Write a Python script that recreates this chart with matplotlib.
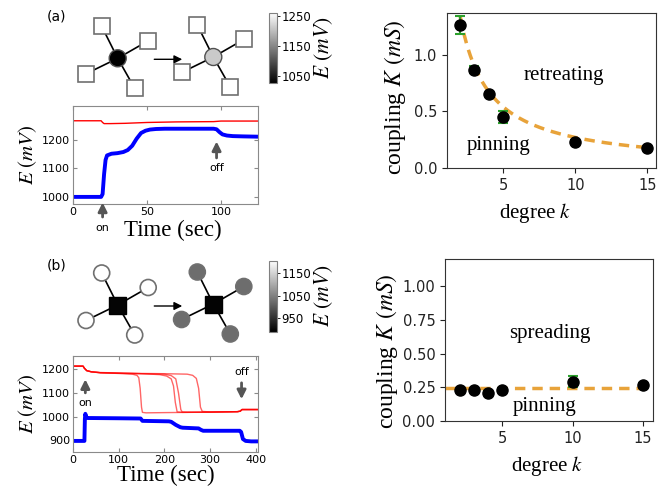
import numpy as np
import matplotlib.pyplot as plt
from matplotlib.patches import Circle, Rectangle
from matplotlib.colors import Normalize
from matplotlib import cm, rcParams

rcParams['mathtext.fontset'] = 'stix'
SERIF = 'Liberation Serif'
W, H = 667, 490

# ---------------- data ----------------
# (a) hub node switched on: blue = hub, red = leaves
t_a_blue = [0, 19, 20, 21, 22, 23, 26, 30, 34, 37, 40, 43, 46, 49, 52, 56, 62, 70, 80,
            90, 95, 97, 99, 101, 104, 108, 115, 125]
E_a_blue = [1000, 1000, 1010, 1080, 1130, 1146, 1152, 1154, 1158, 1165, 1180, 1205, 1225,
            1233, 1237, 1239, 1240, 1240, 1240, 1240, 1240, 1238, 1228, 1220, 1216, 1214,
            1213, 1212]
t_a_red = [0, 19, 20, 21, 25, 35, 50, 70, 95, 100, 125]
E_a_red = [1268, 1268, 1262, 1258, 1258, 1259, 1262, 1264, 1265, 1267, 1267]

# (b) hub node switched on: blue = hub, red = 4 leaves
t_b_blue = [0, 25, 26, 27, 29, 32, 40, 100, 148, 152, 210, 215, 225, 235, 240, 275, 280,
            285, 365, 368, 372, 378, 390, 408]
E_b_blue = [897, 897, 990, 1012, 998, 994, 994, 993, 992, 982, 980, 978, 965, 955, 953,
            950, 944, 940, 940, 935, 905, 897, 895, 895]
t_b_red = [
    [0, 22, 25, 30, 40, 60, 100, 130, 140, 144, 147, 150, 152, 160, 200, 250, 300, 360,
     366, 370, 380, 408],
    [0, 22, 25, 30, 40, 60, 100, 150, 190, 205, 215, 220, 224, 228, 240, 300, 360, 366,
     370, 380, 408],
    [0, 22, 25, 30, 40, 60, 100, 150, 200, 215, 225, 231, 236, 239, 250, 300, 360, 366,
     370, 380, 408],
    [0, 22, 25, 30, 40, 60, 100, 150, 200, 250, 262, 270, 275, 279, 283, 300, 360, 366,
     370, 380, 408],
]
E_b_red = [
    [1214, 1214, 1205, 1195, 1190, 1186, 1183, 1180, 1175, 1165, 1120, 1040, 1018, 1016,
     1017, 1018, 1019, 1021, 1023, 1030, 1030, 1030],
    [1214, 1214, 1205, 1195, 1190, 1186, 1184, 1182, 1178, 1172, 1160, 1130, 1060, 1020,
     1018, 1019, 1021, 1023, 1030, 1030, 1030],
    [1214, 1214, 1205, 1195, 1190, 1186, 1184, 1182, 1180, 1174, 1160, 1100, 1030, 1020,
     1019, 1019, 1021, 1023, 1030, 1030, 1030],
    [1214, 1214, 1205, 1195, 1190, 1187, 1185, 1183, 1182, 1180, 1175, 1162, 1120, 1040,
     1022, 1020, 1021, 1023, 1030, 1030, 1030],
]

degree = [2, 3, 4, 5, 10, 15]
K_retreat = [1.26, 0.87, 0.65, 0.45, 0.23, 0.18]
K_retreat_err = [0.08, 0.03, 0.01, 0.05, 0.02, 0.01]
K_spread = [0.23, 0.23, 0.21, 0.23, 0.29, 0.27]
K_spread_err = [0.01, 0.01, 0.01, 0.015, 0.04, 0.01]
fit_retreat = 2.7     # K = c / k
fit_spread = 0.245    # K = const

# node potentials for the cartoons (hub, leaves), mV
nodes_a = [(1000, 1268), (1212, 1266)]
nodes_b = [(897, 1214), (895, 1025)]
crange_a = (1026, 1261)
crange_b = (891, 1203)

fig = plt.figure(figsize=(W / 100, H / 100), dpi=100)


def px_axes(l, t, r, b):
    return fig.add_axes([l / W, 1 - b / H, (r - l) / W, (b - t) / H])


# ---------------- cartoons ----------------
ov = fig.add_axes([0, 0, 1, 1])
ov.set_xlim(0, W)
ov.set_ylim(H, 0)
ov.axis('off')

leaf_off = [(-16, -32), (30.5, -17.5), (-31.7, 15.5), (17, 30)]


def star(cx, cy, hub_val, leaf_val, norm, hub_shape):
    cmap = plt.get_cmap('gray')
    for dx, dy in leaf_off:
        x, y = cx + dx, cy + dy
        ov.plot([cx, x], [cy, y], color='black', lw=1.2, zorder=1)
        fc = cmap(norm(leaf_val))
        if hub_shape == 'circle':
            ov.add_patch(Rectangle((x - 8, y - 8), 16, 16, fc=fc, ec='#707070', lw=1.2, zorder=2))
        else:
            ov.add_patch(Circle((x, y), 8, fc=fc, ec='#707070', lw=1.2, zorder=2))
    fc = cmap(norm(hub_val))
    if hub_shape == 'circle':
        ov.add_patch(Circle((cx, cy), 8.5, fc=fc, ec='#505050', lw=1, zorder=3))
    else:
        ov.add_patch(Rectangle((cx - 8.5, cy - 8.5), 17, 17, fc=fc, ec='black', lw=1, zorder=3))


norm_a = Normalize(*crange_a)
norm_b = Normalize(*crange_b)
star(117.7, 58.3, *nodes_a[0], norm_a, 'circle')
star(213.3, 57, *nodes_a[1], norm_a, 'circle')
star(117.7, 305, *nodes_b[0], norm_b, 'square')
star(213.3, 304, *nodes_b[1], norm_b, 'square')
for y in (59.3, 306):
    ov.annotate('', xy=(185, y), xytext=(151.5, y),
                arrowprops=dict(arrowstyle='-|>', color='black', lw=1, mutation_scale=12))
ov.text(56.7, 17, '(a)', fontsize=10, ha='center', va='center')
ov.text(56.7, 265, '(b)', fontsize=10, ha='center', va='center')

for box, norm, ticks in [((269.3, 12.7, 276.7, 83.3), norm_a, [1050, 1150, 1250]),
                         ((269.3, 260.7, 276.7, 331.7), norm_b, [950, 1050, 1150])]:
    cax = px_axes(*box)
    cb = fig.colorbar(cm.ScalarMappable(norm=norm, cmap='gray'), cax=cax, ticks=ticks)
    cb.outline.set_edgecolor('#808080')
    cb.outline.set_linewidth(0.8)
    cax.tick_params(labelsize=8.5, length=2, width=0.6, pad=1.5)
    cb.set_label(r'$E\ (mV)$', fontsize=15.5, labelpad=1)

# ---------------- time traces ----------------
arrow_kw = dict(arrowstyle='-|>', color='#555555', lw=2, mutation_scale=13)


def style_time(ax):
    for s in ax.spines.values():
        s.set_color('#8a8a8a')
    ax.tick_params(direction='in', top=True, right=True, labelsize=8, length=3,
                   color='#8a8a8a', pad=2)
    ax.set_ylabel(r'$E\ (mV)$', fontsize=15, labelpad=2)
    ax.set_xlabel('Time (sec)', fontfamily=SERIF, fontsize=16.5, labelpad=0)


axA = px_axes(73, 106, 258, 204)
axA.plot(t_a_red, E_a_red, color='red', lw=1)
axA.plot(t_a_blue, E_a_blue, color='blue', lw=2.8)
axA.set_xlim(0, 125)
axA.set_ylim(975, 1320)
axA.set_xticks([0, 50, 100])
axA.set_yticks([1000, 1100, 1200])
style_time(axA)
axA.xaxis.set_label_coords(0.538, -0.27)
axA.xaxis.label.set_va('center')
axA.annotate('on', xy=(20, 990), xytext=(20, 892), ha='center', va='center', fontsize=8,
             arrowprops=arrow_kw, annotation_clip=False)
axA.annotate('off', xy=(97, 1205), xytext=(97, 1100), ha='center', va='center', fontsize=8,
             arrowprops=arrow_kw)

axB = px_axes(73, 356, 258, 452)
for tt, ee in zip(t_b_red, E_b_red):
    axB.plot(tt, ee, color='red', lw=1, alpha=0.6)
axB.plot(t_b_blue, E_b_blue, color='blue', lw=2.8)
axB.set_xlim(0, 405)
axB.set_ylim(850, 1257)
axB.set_xticks([0, 100, 200, 300, 400])
axB.set_yticks([900, 1000, 1100, 1200])
style_time(axB)
axB.annotate('on', xy=(27, 1170), xytext=(27, 1056), ha='center', va='center', fontsize=8,
             arrowprops=arrow_kw)
axB.annotate('off', xy=(369, 1062), xytext=(369, 1188), ha='center', va='center', fontsize=8,
             arrowprops=arrow_kw)

# ---------------- coupling vs degree ----------------
orange = '#E8A33A'
green = '#2ca02c'


def style_k(ax, ylab_xy, xlab_x):
    for s in ax.spines.values():
        s.set_color('#333333')
    ax.tick_params(labelsize=10.5, colors='#222222', length=3.5)
    ax.set_xticks([5, 10, 15])
    ax.set_xlabel('degree $k$', fontfamily=SERIF, fontsize=15, labelpad=6)
    ax.set_ylabel('coupling $K$ $(mS)$', fontfamily=SERIF, fontsize=17)
    ax.yaxis.set_label_coords(*ylab_xy)
    ax.yaxis.label.set_va('center')
    ax.xaxis.label.set_x(xlab_x)


axR1 = px_axes(447, 13, 656, 168)
k_fit = np.linspace(1.5, 15, 200)
axR1.plot(k_fit, fit_retreat / k_fit, ls=(0, (3, 2)), color=orange, lw=2.5, zorder=2)
axR1.errorbar(degree, K_retreat, yerr=K_retreat_err, fmt='o', color='black', ms=8,
              ecolor=green, elinewidth=1.5, capsize=3.5, capthick=1.5, zorder=3)
axR1.set_xlim(1.1, 15.6)
axR1.set_ylim(0, 1.37)
axR1.set_yticks([0, 0.5, 1.0])
style_k(axR1, (-0.249, 0.458), 0.42)
axR1.text(9.2, 0.82, 'retreating', fontfamily=SERIF, fontsize=15, ha='center', va='center')
axR1.text(4.65, 0.195, 'pinning', fontfamily=SERIF, fontsize=15, ha='center', va='center')

axR2 = px_axes(445, 259, 653, 421)
axR2.plot([0.96, 15], [fit_spread, fit_spread], ls=(0, (3, 2)), color=orange, lw=2.5, zorder=2)
axR2.errorbar(degree, K_spread, yerr=K_spread_err, fmt='o', color='black', ms=8,
              ecolor=green, elinewidth=1.5, capsize=3.5, capthick=1.5, zorder=3)
axR2.set_xlim(0.96, 15.7)
axR2.set_ylim(0, 1.2)
axR2.set_yticks([0, 0.25, 0.5, 0.75, 1.0])
style_k(axR2, (-0.28, 0.432), 0.49)
axR2.text(8.4, 0.65, 'spreading', fontfamily=SERIF, fontsize=15, ha='center', va='center')
axR2.text(8.05, 0.11, 'pinning', fontfamily=SERIF, fontsize=15, ha='center', va='center')

fig.savefig('out.png', dpi=100)
